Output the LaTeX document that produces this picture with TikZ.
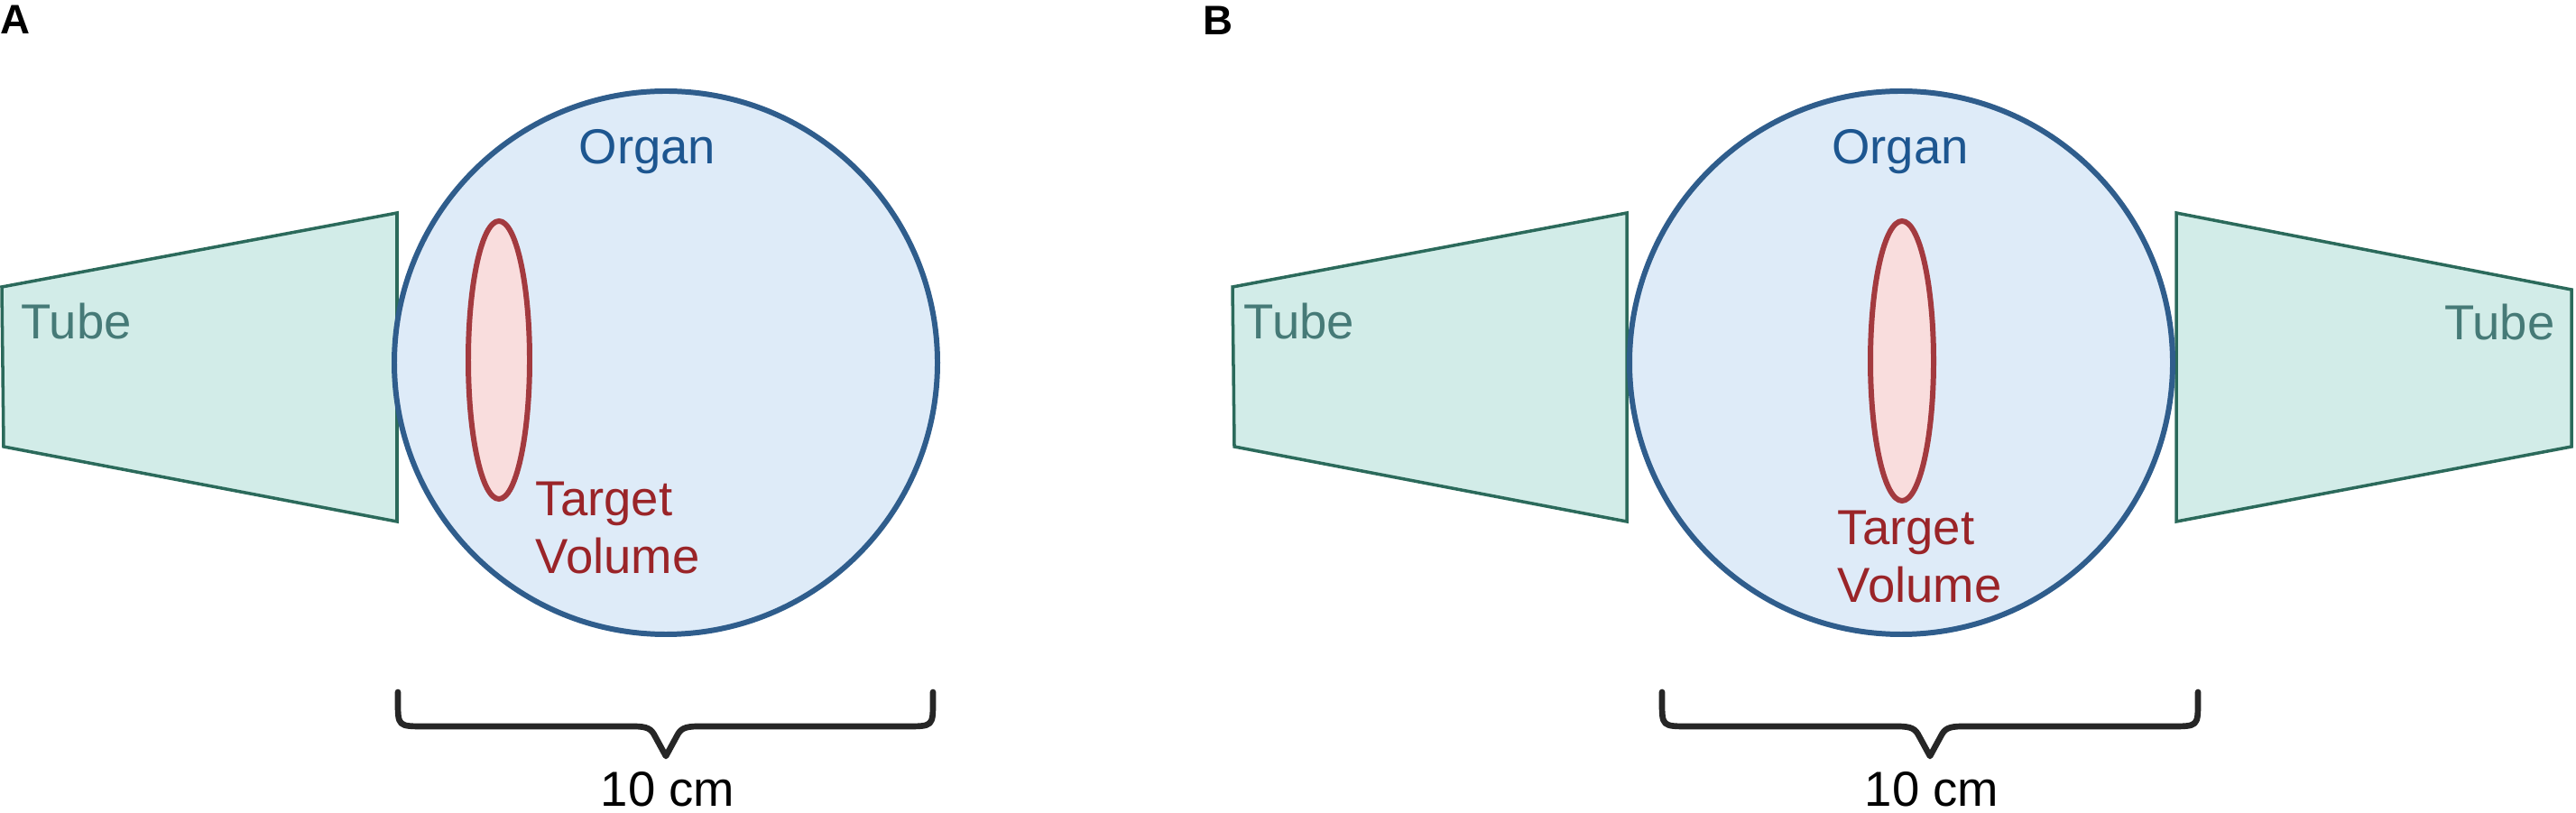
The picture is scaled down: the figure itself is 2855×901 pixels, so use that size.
\documentclass[tikz,border=0pt]{standalone}
\usepackage{fontspec}
\setmainfont{Liberation Sans}
\usepackage{xcolor}
\usepackage{tikz}

\definecolor{organfill}{HTML}{DEEBF8}
\definecolor{organline}{HTML}{2F5D8C}
\definecolor{organtext}{HTML}{1D5690}
\definecolor{targetfill}{HTML}{F9DDDD}
\definecolor{targetline}{HTML}{A33A3F}
\definecolor{targettext}{HTML}{9A2428}
\definecolor{tubefill}{HTML}{D2ECE8}
\definecolor{tubeline}{HTML}{2B6A5B}
\definecolor{tubetext}{HTML}{467A77}
\definecolor{braceline}{HTML}{262626}

\begin{document}
\begin{tikzpicture}[x=0.01cm, y=-0.01cm,
  lbl/.style={inner sep=0pt, font=\fontsize{15.5}{18.2}\selectfont},
  panel/.style={inner sep=0pt, font=\fontsize{13}{15}\selectfont\bfseries},
  tube/.style={draw=tubeline, fill=tubefill, line width=1pt},
  organ/.style={draw=organline, fill=organfill, line width=1.7pt},
  target/.style={draw=targetline, fill=targetfill, line width=1.7pt},
  sizebrace/.style={draw=braceline, line width=1.9pt, line cap=round, line join=round}]
  \useasboundingbox (0,0) rectangle (2855,901);

  % Panel labels
  \node[panel, anchor=base west] (labA) at (0,38) {A};
  \node[panel, anchor=base west] (labB) at (1333,39) {B};

  % Panel A: tube
  \draw[tube] (2,318) -- (440,236) -- (440,578) -- (4,495) -- cycle;
  \node[lbl, text=tubetext, anchor=base west] (tubeA) at (23,376) {Tube};

  % Panel A: organ and target volume
  \draw[organ] (738,402) circle (301);
  \draw[target] (553,399) ellipse (34 and 154);
  \node[lbl, text=organtext, anchor=base west] (organA) at (641,182) {Organ};
  \node[lbl, text=targettext, align=left, anchor=north west] (targetA) at (593,533) {Target\\Volume};

  % Panel A: size brace
  \draw[sizebrace] (441,767) -- (441,777) .. controls (441,805) .. (471,805) -- (702,805)
    .. controls (718,805) and (722,808) .. (726,816) -- (738,838) -- (750,816)
    .. controls (754,808) and (758,805) .. (774,805) -- (1004,805)
    .. controls (1034,805) .. (1034,777) -- (1034,767);
  \node[lbl, anchor=base] (sizeA) at (740,893) {10 cm};

  % Panel B: tubes
  \draw[tube] (1366,318) -- (1803,236) -- (1803,578) -- (1368,495) -- cycle;
  \draw[tube] (2412,236) -- (2850,321) -- (2850,495) -- (2412,578) -- cycle;
  \node[lbl, text=tubetext, anchor=base west] (tubeBl) at (1378,376) {Tube};
  \node[lbl, text=tubetext, anchor=base east] (tubeBr) at (2832,377) {Tube};

  % Panel B: organ and target volume
  \draw[organ] (2107,402) circle (301);
  \draw[target] (2108,400) ellipse (35 and 155);
  \node[lbl, text=organtext, anchor=base] (organB) at (2106,182) {Organ};
  \node[lbl, text=targettext, align=left, anchor=north west] (targetB) at (2036,565) {Target\\Volume};

  % Panel B: size brace
  \draw[sizebrace] (1842,767) -- (1842,777) .. controls (1842,805) .. (1872,805) -- (2103,805)
    .. controls (2119,805) and (2123,808) .. (2127,816) -- (2139,838) -- (2151,816)
    .. controls (2155,808) and (2159,805) .. (2175,805) -- (2406,805)
    .. controls (2436,805) .. (2436,777) -- (2436,767);
  \node[lbl, anchor=base] (sizeB) at (2141,893) {10 cm};
\end{tikzpicture}
\end{document}
